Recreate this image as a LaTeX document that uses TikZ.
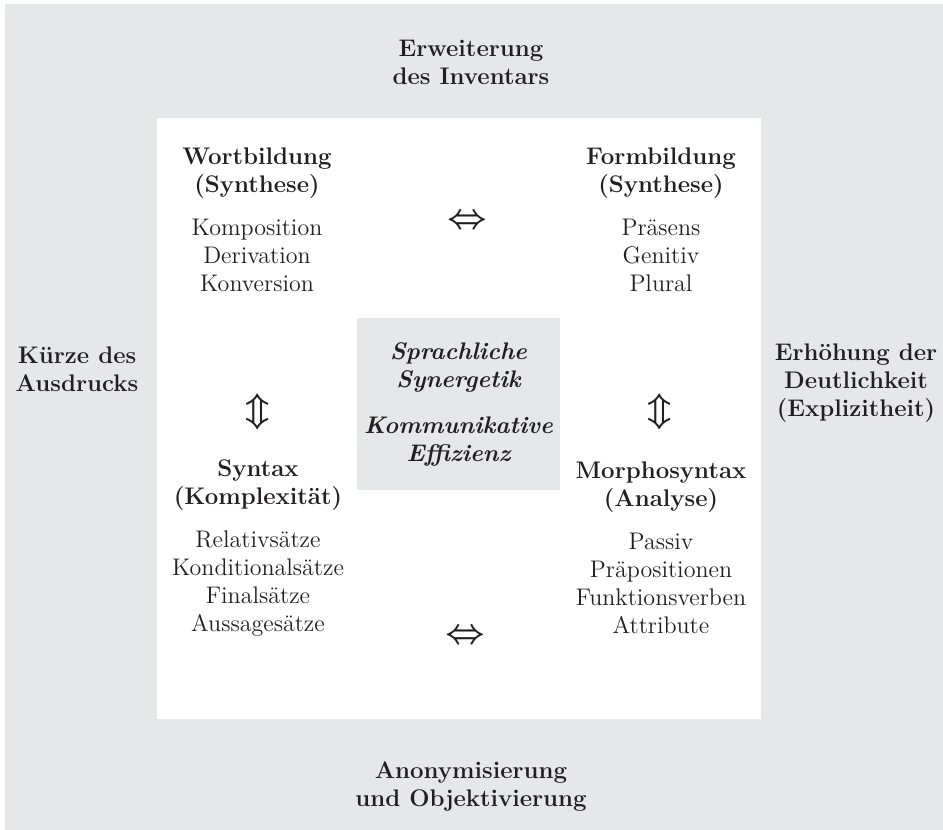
\documentclass[tikz,border=0pt]{standalone}
\usepackage{amsmath,amssymb}
\definecolor{paneltint}{HTML}{E6E7E9}
\definecolor{inkdark}{HTML}{231F20}

\begin{document}
\begin{tikzpicture}[
  x=.5pt,y=-.5pt,
  font=\fontsize{12}{14}\selectfont,
  sidetext/.style={align=center,inner sep=0pt,text=inkdark,
    font=\fontsize{12}{14}\selectfont\bfseries},
  block/.style={align=center,inner sep=0pt,text=inkdark},
  glyph/.style={inner sep=0pt,text=inkdark,font=\LARGE},
  corebox/.style={fill=paneltint,minimum width=101.5pt,minimum height=86pt,
    align=center,inner sep=0pt,text=inkdark,
    font=\fontsize{12}{14}\selectfont\bfseries\itshape}
]
\useasboundingbox (0,0) rectangle (943,830);
\fill[paneltint] (5,4) rectangle (943,830);
\fill[white] (157,118) rectangle (761,719);

\node[sidetext] (inventar) at (471,62)
  {Erweiterung\\des Inventars};
\node[sidetext] (anonym) at (471,787)
  {Anonymisierung\\und Objektivierung};
\node[sidetext] (kuerze) at (77,369)
  {Kürze des\\Ausdrucks};
\node[sidetext] (deutlich) at (856,383)
  {Erhöhung der\\Deutlichkeit\\(Explizitheit)};

\node[block] (wortbildung) at (257,220)
  {\textbf{Wortbildung}\\\textbf{(Synthese)}\\[7.5pt]
   Komposition\\Derivation\\Konversion};
\node[block] (formbildung) at (661,220)
  {\textbf{Formbildung}\\\textbf{(Synthese)}\\[7.5pt]
   Präsens\\Genitiv\\Plural};
\node[block] (syntax) at (258,548)
  {\textbf{Syntax}\\\textbf{(Komplexität)}\\[7.5pt]
   Relativsätze\\Konditionalsätze\\Finalsätze\\Aussagesätze};
\node[block] (morphosyntax) at (661,548)
  {\textbf{Morphosyntax}\\\textbf{(Analyse)}\\[7.5pt]
   Passiv\\Präpositionen\\Funktionsverben\\Attribute};

\node[corebox] (synergetik) at (458.5,404)
  {Sprachliche\\Synergetik\\[9pt]Kommunikative\\Effizienz};

\node[glyph] (wortform) at (467,222) {$\boldsymbol{\Leftrightarrow}$};
\node[glyph] (syntaxmorph) at (465,637) {$\boldsymbol{\Leftrightarrow}$};
\node[glyph] (wortsyntax) at (258,412) {$\boldsymbol{\Updownarrow}$};
\node[glyph] (formmorph) at (660,412) {$\boldsymbol{\Updownarrow}$};
\end{tikzpicture}
\end{document}
